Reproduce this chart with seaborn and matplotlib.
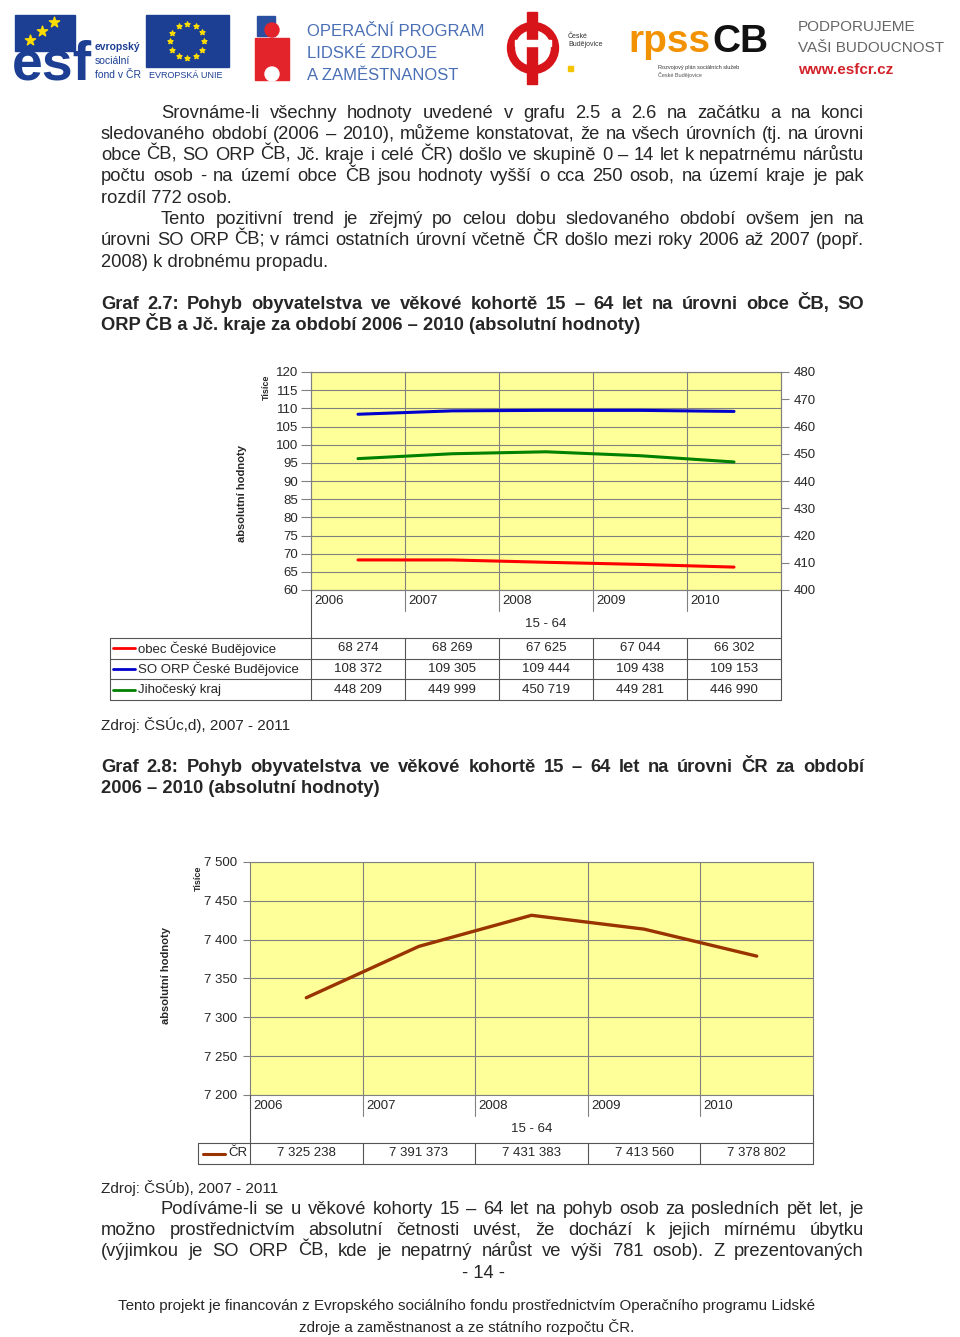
import numpy as np
import pandas as pd
import matplotlib
matplotlib.use('Agg')
import matplotlib.pyplot as plt
import matplotlib.transforms as mtransforms
import seaborn as sns
from matplotlib import font_manager
from matplotlib.patches import Rectangle, Circle
from matplotlib.ticker import FuncFormatter, MultipleLocator

sns.set_theme(style="white")
plt.rcParams['font.family'] = ['Liberation Sans', 'DejaVu Sans']

# Data (osoby 15 - 64 let)
roky = [2006, 2007, 2008, 2009, 2010]
obec_cb = [68274, 68269, 67625, 67044, 66302]
orp_cb = [108372, 109305, 109444, 109438, 109153]
jc_kraj = [448209, 449999, 450719, 449281, 446990]
cr = [7325238, 7391373, 7431383, 7413560, 7378802]

radky_graf1 = ['obec České Budějovice', 'SO ORP České Budějovice', 'Jihočeský kraj']
barvy_graf1 = ['#ff0000', '#0000cc', '#008000']

df1 = pd.DataFrame({'rok': roky, 'obec': obec_cb, 'orp': orp_cb, 'kraj': jc_kraj})
df2 = pd.DataFrame({'rok': roky, 'cr': cr})

W, H = 960, 1337
fig = plt.figure(figsize=(W / 100, H / 100), dpi=100)


def rect(x0, y0, x1, y1):
    return [x0 / W, 1 - y1 / H, (x1 - x0) / W, (y1 - y0) / H]


def cislo(v):
    return f"{int(round(v)):,}".replace(",", " ")


page = fig.add_axes([0, 0, 1, 1], zorder=5)
page.set_xlim(0, W)
page.set_ylim(H, 0)
page.axis('off')
page.patch.set_alpha(0)
renderer = fig.canvas.get_renderer()

names = {f.name for f in font_manager.fontManager.ttflist}
body_fam = ['Liberation Sans Narrow', 'Liberation Sans', 'DejaVu Sans'] if 'Liberation Sans Narrow' in names \
    else ['Liberation Sans', 'DejaVu Sans']

probe = page.text(0, 0, "sledovaného období (2006 – 2010), můžeme konstatovat, že na všech úrovních (tj. na úrovni",
                  fontsize=12, family=body_fam)
body_size = 12 * 758 / probe.get_window_extent(renderer).width
probe.remove()


def radek(s, y, x0, x1=864, weight='normal', justify=True, size=None):
    size = size or body_size
    yb = y + 0.36 * size * 100 / 72
    if not justify:
        page.text(x0, yb, s, fontsize=size, family=body_fam, fontweight=weight, va='baseline')
        return
    words = s.split()
    ts = [page.text(0, yb, w, fontsize=size, family=body_fam, fontweight=weight, va='baseline') for w in words]
    ws = [t.get_window_extent(renderer).width for t in ts]
    gap = (x1 - x0 - sum(ws)) / (len(ws) - 1)
    x = x0
    for t, w in zip(ts, ws):
        t.set_x(x)
        x += w + gap


# Hlavicka s logy
page.add_patch(Rectangle((15, 15), 60, 36, color='#1c3f94'))
page.scatter([30, 42, 54], [40, 31, 22], marker='*', s=60, color='#ffdd00', zorder=6)
page.text(12, 80, 'esf', fontsize=40, fontweight='bold', color='#1c3f94', va='baseline')
page.text(95, 47, 'evropský', fontsize=7.5, fontweight='bold', color='#1c3f94', va='center')
page.text(95, 61, 'sociální', fontsize=7.5, color='#1c3f94', va='center')
page.text(95, 75, 'fond v ČR', fontsize=7.5, color='#1c3f94', va='center')

page.add_patch(Rectangle((146, 15), 83, 52, color='#1c3f94'))
uhly = np.linspace(0, 2 * np.pi, 13)[:-1]
page.scatter(187 + 17 * np.cos(uhly), 41 + 17 * np.sin(uhly), marker='*', s=14, color='#ffdd00', zorder=6)
page.text(149, 76, 'EVROPSKÁ UNIE', fontsize=6.5, color='#1c3f94', va='center')

page.add_patch(Rectangle((257, 16), 18, 20, color='#2a4fa0'))
page.add_patch(Rectangle((255, 38), 34, 42, color='#e3242b'))
page.add_patch(Circle((272, 74), 7, color='white'))
page.add_patch(Circle((272, 30), 7, color='#e3242b'))
for i, s in enumerate(['OPERAČNÍ PROGRAM', 'LIDSKÉ ZDROJE', 'A ZAMĚSTNANOST']):
    page.text(307, 31 + i * 22, s, fontsize=12, color='#4a6fb5', va='center')

page.add_patch(Circle((533, 48), 22, fill=False, lw=6, color='#d7141a'))
page.add_patch(Rectangle((527, 12), 10, 72, color='#d7141a'))
page.add_patch(Rectangle((515, 40), 36, 6, color='white'))
page.text(568, 40, 'České\nBudějovice', fontsize=5, va='center', color='#333333')
page.add_patch(Rectangle((568, 66), 5, 5, color='#f5c400'))

page.text(628, 52, 'rpss', fontsize=28, fontweight='bold', color='#f39200', va='baseline')
page.text(712, 52, 'CB', fontsize=28, fontweight='bold', color='#111111', va='baseline')
page.text(658, 68, 'Rozvojový plán sociálních služeb', fontsize=4, color='#333333', va='center')
page.text(658, 75, 'České Budějovice', fontsize=4, color='#555555', va='center')

page.text(798, 27, 'PODPORUJEME', fontsize=11, color='#666666', va='center')
page.text(798, 48, 'VAŠI BUDOUCNOST', fontsize=11, color='#666666', va='center')
page.text(798, 70, 'www.esfcr.cz', fontsize=11, fontweight='bold', color='#d2232a', va='center')

# Text stranky
radek("Srovnáme-li všechny hodnoty uvedené v grafu 2.5 a 2.6 na začátku a na konci", 111, 161)
radek("sledovaného období (2006 – 2010), můžeme konstatovat, že na všech úrovních (tj. na úrovni", 132, 101)
radek("obce ČB, SO ORP ČB, Jč. kraje i celé ČR) došlo ve skupině 0 – 14 let k nepatrnému nárůstu", 153, 101)
radek("počtu osob - na území obce ČB jsou hodnoty vyšší o cca 250 osob, na území kraje je pak", 174, 101)
radek("rozdíl 772 osob.", 196, 101, justify=False)
radek("Tento pozitivní trend je zřejmý po celou dobu sledovaného období ovšem jen na", 217, 161)
radek("úrovni SO ORP ČB; v rámci ostatních úrovní včetně ČR došlo mezi roky 2006 až 2007 (popř.", 238, 101)
radek("2008) k drobnému propadu.", 260, 101, justify=False)
radek("Graf 2.7: Pohyb obyvatelstva ve věkové kohortě 15 – 64 let na úrovni obce ČB, SO", 302, 101, weight='bold')
radek("ORP ČB a Jč. kraje za období 2006 – 2010 (absolutní hodnoty)", 323, 101, weight='bold', justify=False)
radek("Zdroj: ČSÚc,d), 2007 - 2011", 724, 101, justify=False, size=body_size * 0.83)
radek("Graf 2.8: Pohyb obyvatelstva ve věkové kohortě 15 – 64 let na úrovni ČR za období", 765, 101, weight='bold')
radek("2006 – 2010 (absolutní hodnoty)", 786, 101, weight='bold', justify=False)
radek("Zdroj: ČSÚb), 2007 - 2011", 1187, 101, justify=False, size=body_size * 0.83)
radek("Podíváme-li se u věkové kohorty 15 – 64 let na pohyb osob za posledních pět let, je", 1207, 161)
radek("možno prostřednictvím absolutní četnosti uvést, že dochází k jejich mírnému úbytku", 1228, 101)
radek("(výjimkou je SO ORP ČB, kde je nepatrný nárůst ve výši 781 osob).  Z prezentovaných", 1249, 101)
page.text(483, 1274, "- 14 -", fontsize=body_size, family=body_fam, ha='center', va='center')
page.text(467, 1306, "Tento projekt je financován z Evropského sociálního fondu prostřednictvím Operačního programu Lidské",
          fontsize=body_size * 0.82, family=body_fam, ha='center', va='center')
page.text(467, 1327, "zdroje a zaměstnanost a ze státního rozpočtu ČR.",
          fontsize=body_size * 0.82, family=body_fam, ha='center', va='center')

grid_c = '#808080'
tab_c = '#555555'
fs = 9.5


def styl_osy(ax):
    ax.set_facecolor('#ffff99')
    ax.set_xlim(2005.5, 2010.5)
    ax.set_xticks([])
    ax.set_xticks([r + 0.5 for r in roky[:-1]], minor=True)
    ax.grid(True, axis='y', color=grid_c, lw=0.8)
    ax.grid(True, which='minor', axis='x', color=grid_c, lw=0.8)
    ax.tick_params(axis='x', which='both', length=0)
    ax.tick_params(axis='y', direction='out', left=True, length=7, width=0.8, color=grid_c,
                   labelsize=fs, pad=2)
    for sp in ax.spines.values():
        sp.set_color(grid_c)
        sp.set_linewidth(0.8)
    ax.set_xlabel('')


def spodek(ax, y_osa, y_tab0, y_tab1, x_tab, n_rad):
    tr = mtransforms.blended_transform_factory(ax.transData, page.transData)
    for r in roky:
        page.text(r - 0.47, y_osa + 11, str(r), transform=tr, fontsize=fs, ha='left', va='center')
    page.text(2008, y_osa + 34, '15 - 64', transform=tr, fontsize=fs, ha='center', va='center')
    for b in [r + 0.5 for r in roky[:-1]]:
        page.plot([b, b], [y_osa, y_osa + 21], transform=tr, color=grid_c, lw=0.8)
        page.plot([b, b], [y_tab0, y_tab1], transform=tr, color=tab_c, lw=0.8)
    for b in [2005.5, 2010.5]:
        page.plot([b, b], [y_osa, y_tab1], transform=tr, color=tab_c, lw=0.8)
    x_r = ax.transData.transform((2010.5, 0))[0]
    radky_y = np.linspace(y_tab0, y_tab1, n_rad + 1)
    for yy in radky_y:
        page.plot([x_tab, x_r], [yy, yy], color=tab_c, lw=0.8)
    page.plot([x_tab, x_tab], [y_tab0, y_tab1], color=tab_c, lw=0.8)
    return tr, (radky_y[:-1] + radky_y[1:]) / 2


# Graf 2.7
ax1 = fig.add_axes(rect(311, 372, 781, 590))
sns.lineplot(data=df1, x='rok', y=df1['obec'] / 1000, ax=ax1, color=barvy_graf1[0], lw=2.2)
sns.lineplot(data=df1, x='rok', y=df1['orp'] / 1000, ax=ax1, color=barvy_graf1[1], lw=2.2)
styl_osy(ax1)
ax1.set_ylim(60, 120)
ax1.yaxis.set_major_locator(MultipleLocator(5))
ax1.set_ylabel('absolutní hodnoty', fontsize=8, fontweight='bold')
ax1.yaxis.set_label_coords((247 - 311) / 470, (590 - 493) / 218)

ax2 = ax1.twinx()
sns.lineplot(data=df1, x='rok', y=df1['kraj'] / 1000, ax=ax2, color=barvy_graf1[2], lw=2.2)
ax2.set_ylim(400, 480)
ax2.yaxis.set_major_locator(MultipleLocator(10))
ax2.tick_params(axis='y', direction='out', right=True, length=6, width=0.8, color=grid_c, labelsize=fs, pad=3)
ax2.grid(False)
ax2.set_ylabel('')
for sp in ax2.spines.values():
    sp.set_color(grid_c)
    sp.set_linewidth(0.8)
page.text(266, 387, 'Tisíce', fontsize=6.5, fontweight='bold', rotation=90, ha='center', va='center')

tr1, ys1 = spodek(ax1, 590, 638, 700, 110, 3)
for nazev, barva, hodnoty, yy in zip(radky_graf1, barvy_graf1, [obec_cb, orp_cb, jc_kraj], ys1):
    page.plot([113, 135], [yy, yy], color=barva, lw=2)
    page.text(138, yy, nazev, fontsize=fs, va='center')
    for r, v in zip(roky, hodnoty):
        page.text(r, yy, cislo(v), transform=tr1, fontsize=fs, ha='center', va='center')

# Graf 2.8
ax3 = fig.add_axes(rect(250, 862, 813, 1095))
sns.lineplot(data=df2, x='rok', y=df2['cr'] / 1000, ax=ax3, color='#993300', lw=2.4)
styl_osy(ax3)
ax3.set_ylim(7200, 7500)
ax3.yaxis.set_major_locator(MultipleLocator(50))
ax3.yaxis.set_major_formatter(FuncFormatter(lambda v, _: cislo(v)))
ax3.tick_params(axis='y', length=5, pad=4)
ax3.set_ylabel('absolutní hodnoty', fontsize=8, fontweight='bold')
ax3.yaxis.set_label_coords((171 - 250) / 563, (1095 - 975) / 233)
page.text(198, 878, 'Tisíce', fontsize=6.5, fontweight='bold', rotation=90, ha='center', va='center')

tr3, ys3 = spodek(ax3, 1095, 1143, 1164, 198, 1)
page.plot([203, 225], [ys3[0], ys3[0]], color='#993300', lw=2.2)
page.text(228, ys3[0], 'ČR', fontsize=fs, va='center')
for r, v in zip(roky, cr):
    page.text(r, ys3[0], cislo(v), transform=tr3, fontsize=fs, ha='center', va='center')

fig.savefig('out.png', dpi=100)
